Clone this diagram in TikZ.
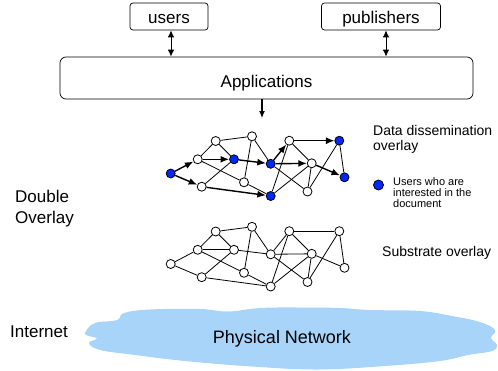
\documentclass[tikz,border=0pt]{standalone}
\usepackage{fontspec}
\setmainfont{Liberation Sans}
\usetikzlibrary{arrows.meta}
\definecolor{cloudblue}{RGB}{168,212,250}
\definecolor{nodeblue}{RGB}{0,40,255}
\begin{document}
\begin{tikzpicture}[x=1pt,y=-1pt,
 box/.style={draw,rounded corners=3pt,line width=0.7pt,inner sep=0pt,font=\fontsize{17}{20}\selectfont},
 wnode/.style={circle,draw,fill=white,inner sep=0pt,minimum size=9pt,line width=0.8pt},
 bnode/.style={wnode,fill=nodeblue},
 gline/.style={line width=0.8pt},
 garrow/.style={line width=1.4pt,-{Latex[length=8.5pt,width=7pt]}},
 dblarrow/.style={line width=1pt,{Latex[length=7pt,width=6.5pt]}-{Latex[length=7pt,width=6.5pt]}},
 lbl/.style={inner sep=0pt,anchor=base west,align=left},
]
\useasboundingbox (0,0) rectangle (498,370);

% cloud
\fill[cloudblue] plot[smooth cycle, tension=0.65] coordinates {
 (86,331) (95,323) (117,320) (124,313) (150,309.5) (200,309) (228,311.5)
 (260,308) (300,307.5) (340,308) (370,310) (420,311) (452,316) (480,322)
 (495,330) (491,338) (497,345) (492,351) (468,355) (440,361) (385,366)
 (318,369.5) (252,366.5) (185,361) (135,355) (100,350) (89,343) (97,338.5) (86,335)};
\node[inner sep=0pt,anchor=base,font=\fontsize{18}{21}\selectfont] (phys) at (282,343) {Physical Network};

% boxes
\node[box,minimum width=78pt,minimum height=27pt,text height=13.6pt,text depth=0pt] (users) at (169,16.5) {users};
\node[box,minimum width=119pt,minimum height=27pt,text height=13.6pt,text depth=0pt] (pubs) at (381,16.5) {publishers};
\node[box,rounded corners=6pt,minimum width=413pt,minimum height=42pt,text height=18.6pt,text depth=0pt] (apps) at (266.5,78) {Applications};

\draw[dblarrow] ([xshift=2pt]users.south) -- ([xshift=2pt]users.south |- apps.north);
\draw[dblarrow] ([xshift=5pt]pubs.south) -- ([xshift=5pt]pubs.south |- apps.north);
\coordinate (nettop) at (262,118);
\draw[line width=1.1pt,-{Latex[length=7pt,width=6pt]}] (apps.south -| nettop) -- (nettop);

% overlay nodes (top: dissemination, bottom: substrate)
\foreach \n/\x/\y/\s in {A/170.7/173.5/bnode, B/197.7/159.3/wnode, C/201.7/186.7/wnode,
  D/215.7/141/wnode, E/234/159.3/bnode, F/252/136.3/wnode, G/244/182.3/wnode,
  H/270.7/163.8/bnode, I/270.7/196/bnode, J/289.3/140.7/wnode, K/311.7/163.3/wnode,
  L/307.5/191.5/wnode, M/339.3/140.7/bnode, N/344.5/177.3/bnode}{
  \node[\s] (t\n) at (\x,\y) {};
  \node[wnode] (b\n) at (\x,\y+90.5) {};
}
% lines
\foreach \a/\b in {B/D, D/F, D/E, C/E, B/G, G/I, F/G, F/H, J/I, I/K, H/L, K/L, J/K, L/M, M/N}{
  \draw[gline] (t\a) -- (t\b);
  \draw[gline] (b\a) -- (b\b);
}
\foreach \a/\b in {A/B, A/C, B/E, E/H, C/I, H/J, H/K, J/M, K/N}{
  \draw[garrow] (t\a) -- (t\b);
  \draw[gline] (b\a) -- (b\b);
}

% labels (multi-line nodes: base = last line)
\node[lbl,font=\fontsize{17}{21.5}\selectfont] (dbl) at (15,223.5) {Double\\Overlay};
\node[lbl,font=\fontsize{17}{20}\selectfont] (inet) at (10,337.5) {Internet};
\node[lbl,font=\fontsize{14}{15}\selectfont] (dsm) at (373,150) {Data dissemination\\overlay};
\node[lbl,font=\fontsize{14}{16}\selectfont] (sub) at (382,256) {Substrate overlay};
\node[bnode,minimum size=10pt] (legdot) at (378.5,185) {};
\node[lbl,font=\fontsize{11}{11}\selectfont] (legtxt) at (393,207.5) {Users who are\\interested in the\\document};
\end{tikzpicture}
\end{document}
